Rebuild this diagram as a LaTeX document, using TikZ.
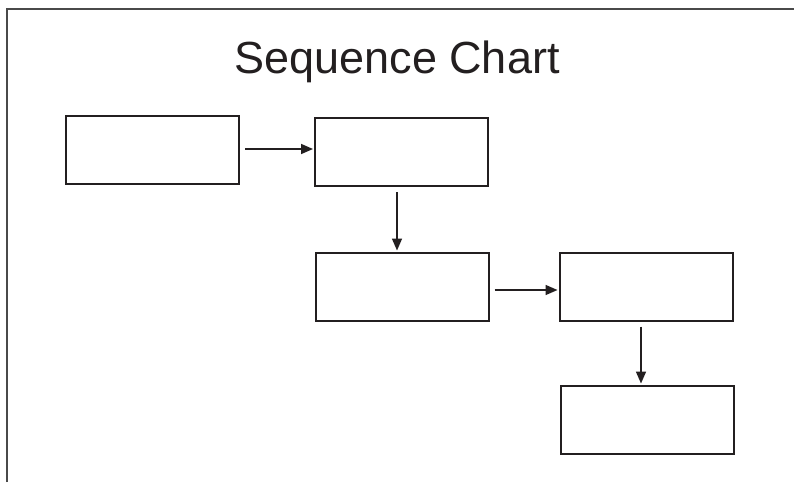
\documentclass[tikz,border=0pt]{standalone}
\usepackage{fontspec}
\setmainfont{Liberation Sans}
\usetikzlibrary{arrows.meta}
\definecolor{ink}{HTML}{231F20}
\definecolor{frame}{HTML}{4A4A4A}
\begin{document}
\begin{tikzpicture}[x=1pt,y=-1pt,
  box/.style={draw=ink,line width=2pt,minimum width=173pt,minimum height=68pt,inner sep=0pt},
  conn/.style={draw=ink,line width=1.6pt,-{Triangle[length=12pt,width=10pt]},shorten >=1pt,shorten <=5pt}]
\useasboundingbox (0,0) rectangle (794,482);
\fill[white] (0,0) rectangle (794,482);
\draw[frame,line width=2pt] (7,482) -- (7,9) -- (794,9);
\node[anchor=base,font=\fontsize{45}{52}\selectfont,text=ink] (title) at (397,73) {Sequence Chart};
\node[box] (b1) at (152.5,149.5) {};
\node[box] (b2) at (401.5,152) {};
\node[box] (b3) at (402,286.5) {};
\node[box] (b4) at (646,286.5) {};
\node[box] (b5) at (647,419.5) {};
\draw[conn] (b1.east |- 0,149) -- (b2.west |- 0,149);
\draw[conn] (b2.south -| 397,0) -- (b3.north -| 397,0);
\draw[conn] (b3.east |- 0,290) -- (b4.west |- 0,290);
\draw[conn] (b4.south -| 641,0) -- (b5.north -| 641,0);
\end{tikzpicture}
\end{document}
